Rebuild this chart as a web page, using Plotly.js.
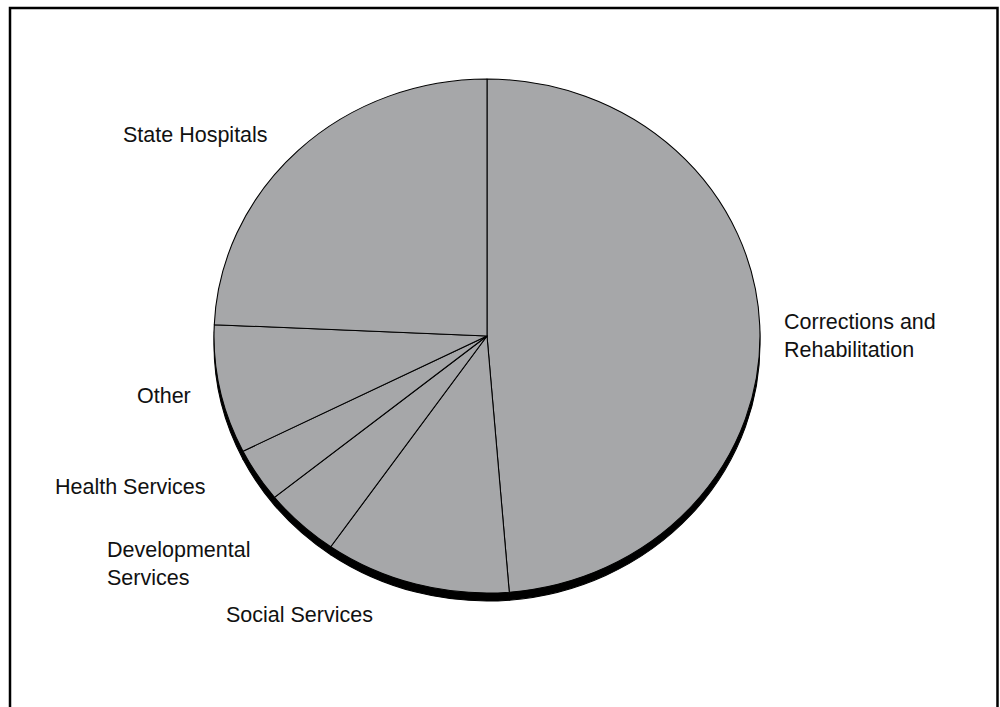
<!DOCTYPE html>
<html>
<head>
<meta charset="utf-8">
<script src="https://cdn.plot.ly/plotly-3.0.1.min.js"></script>
<style>
  html, body { margin: 0; padding: 0; background: #ffffff; }
  #chart { width: 1000px; height: 707px; }
</style>
</head>
<body>
<div id="chart"></div>
<script>
// Data (clockwise from 12 o'clock)
const categories = [
  "Corrections and Rehabilitation",
  "Social Services",
  "Developmental Services",
  "Health Services",
  "Other",
  "State Hospitals"
];
const shares = [48.7, 11.0, 4.5, 3.4, 8.1, 24.3];
const labelText = [
  "Corrections and<br>Rehabilitation",
  "Social Services",
  "Developmental<br>Services",
  "Health Services",
  "Other",
  "State Hospitals"
];

// Layout / style
const W = 1000, H = 707;
const sliceGray = "#a6a7a9";
const pieDomain = { x: [0.230, 0.744], y: [0.1612, 0.8883] };
const shadowShift = 8 / H;
const xStretch = 273 / 257;   // the pie is drawn slightly wider than tall

// label placements (paper coords), one per category
const labelPos = [
  { x: 0.782, y: (H - 336) / H },
  { x: 0.224, y: (H - 615) / H },
  { x: 0.105, y: (H - 564) / H },
  { x: 0.053, y: (H - 487) / H },
  { x: 0.135, y: (H - 396) / H },
  { x: 0.121, y: (H - 135) / H }
];

const shadow = {
  type: "pie",
  labels: categories,
  values: shares,
  sort: false,
  direction: "clockwise",
  rotation: 0,
  textinfo: "none",
  hoverinfo: "skip",
  showlegend: false,
  domain: { x: pieDomain.x, y: [pieDomain.y[0] - shadowShift, pieDomain.y[1] - shadowShift] },
  marker: { colors: categories.map(() => "#000000"), line: { color: "#000000", width: 1 } }
};

const pie = {
  type: "pie",
  labels: categories,
  values: shares,
  sort: false,
  direction: "clockwise",
  rotation: 0,
  textinfo: "none",
  hoverinfo: "label+percent",
  showlegend: false,
  domain: pieDomain,
  marker: { colors: categories.map(() => sliceGray), line: { color: "#000000", width: 1 } }
};

const annotations = labelText.map((t, i) => ({
  text: t,
  xref: "paper", yref: "paper",
  x: labelPos[i].x, y: labelPos[i].y,
  xanchor: "left", yanchor: "middle",
  align: "left",
  showarrow: false,
  font: { family: "Liberation Sans, Arial, Helvetica, sans-serif", size: 21.5, color: "#111111" }
}));

const layout = {
  width: W, height: H,
  margin: { l: 0, r: 0, t: 0, b: 0 },
  paper_bgcolor: "#ffffff",
  plot_bgcolor: "#ffffff",
  showlegend: false,
  annotations: annotations,
  shapes: [{
    type: "rect", xref: "paper", yref: "paper",
    x0: 0.0100, x1: 0.9975, y0: -0.05, y1: (H - 8) / H,
    line: { color: "#000000", width: 2.5 },
    fillcolor: "rgba(0,0,0,0)"
  }]
};

Plotly.newPlot("chart", [shadow, pie], layout, { staticPlot: true, displayModeBar: false }).then(gd => {
  const cx = (pieDomain.x[0] + pieDomain.x[1]) / 2 * gd._fullLayout.width;
  const layer = gd.querySelector(".pielayer");
  if (layer) {
    layer.setAttribute("transform", "translate(" + (cx * (1 - xStretch)) + ",0) scale(" + xStretch + ",1)");
  }
});
</script>
</body>
</html>
